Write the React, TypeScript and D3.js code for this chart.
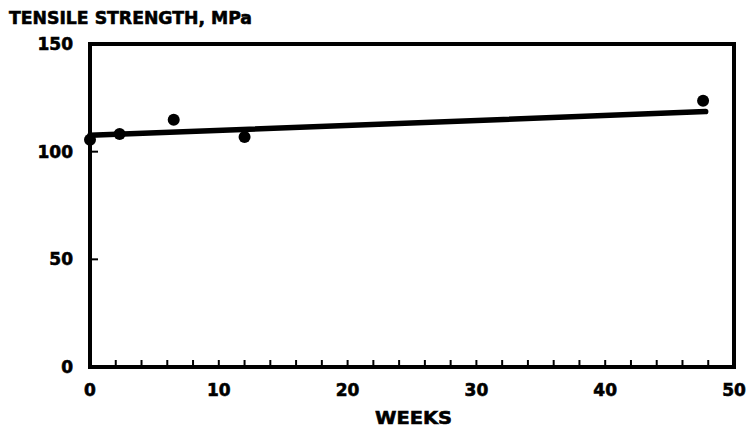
import React, { useEffect, useRef } from "react";
import * as d3 from "d3";

const weeks = [0, 2.3, 6.5, 12, 47.6];
const strength = [105.5, 108.2, 114.8, 106.8, 123.6];
const fitWeeks = [0, 47.8];
const fitStrength = [107.6, 118.6];
const xTickLabels = [0, 10, 20, 30, 40, 50];
const yTickLabels = [0, 50, 100, 150];

const App = () => {
  const ref = useRef<SVGSVGElement>(null);
  const width = 749;
  const height = 431;

  useEffect(() => {
    const svg = d3.select(ref.current);
    svg.selectAll("*").remove();

    const x = d3.scaleLinear().domain([0, 50]).range([90, 734]);
    const y = d3.scaleLinear().domain([0, 150]).range([367, 44]);
    const font = "'DejaVu Sans', sans-serif";

    // frame
    svg
      .append("rect")
      .attr("x", x(0))
      .attr("y", y(150))
      .attr("width", x(50) - x(0))
      .attr("height", y(0) - y(150))
      .attr("fill", "none")
      .attr("stroke", "#000")
      .attr("stroke-width", 4);

    // minor x ticks every 2 weeks
    svg
      .selectAll("line.xt")
      .data(d3.range(2, 50, 2))
      .enter()
      .append("line")
      .attr("x1", (d) => x(d))
      .attr("x2", (d) => x(d))
      .attr("y1", y(0))
      .attr("y2", y(0) - 7)
      .attr("stroke", "#000")
      .attr("stroke-width", 2);

    // y ticks
    svg
      .selectAll("line.yt")
      .data([50, 100])
      .enter()
      .append("line")
      .attr("x1", x(0))
      .attr("x2", x(0) + 8)
      .attr("y1", (d) => y(d))
      .attr("y2", (d) => y(d))
      .attr("stroke", "#000")
      .attr("stroke-width", 2);

    svg
      .selectAll("text.xl")
      .data(xTickLabels)
      .enter()
      .append("text")
      .attr("x", (d) => x(d))
      .attr("y", 396)
      .attr("text-anchor", "middle")
      .text((d) => d);

    svg
      .selectAll("text.yl")
      .data(yTickLabels)
      .enter()
      .append("text")
      .attr("x", 73)
      .attr("y", (d) => y(d) + 6)
      .attr("text-anchor", "end")
      .text((d) => d);

    svg
      .append("text")
      .attr("x", 375)
      .attr("y", 424)
      .attr("textLength", 77)
      .attr("lengthAdjust", "spacingAndGlyphs")
      .style("font-size", "18px")
      .text("WEEKS");

    svg
      .append("text")
      .attr("x", 9)
      .attr("y", 24)
      .attr("textLength", 243)
      .attr("lengthAdjust", "spacingAndGlyphs")
      .style("font-size", "18px")
      .text("TENSILE STRENGTH, MPa");

    // heavier lettering, like the original print
    svg
      .selectAll("text")
      .style("font-family", font)
      .style("font-weight", "bold")
      .style("stroke", "#000")
      .style("stroke-width", 0.6)
      .each(function () {
        const t = d3.select(this);
        if (!t.style("font-size") || t.attr("textLength") == null) t.style("font-size", "17px");
      });

    // fitted line
    const line = d3
      .line<number>()
      .x((d) => x(d))
      .y((d, i) => y(fitStrength[i]));
    svg
      .append("path")
      .attr("d", line(fitWeeks))
      .attr("fill", "none")
      .attr("stroke", "#000")
      .attr("stroke-width", 5.5)
      .attr("stroke-linecap", "round");

    svg
      .selectAll("circle")
      .data(weeks)
      .enter()
      .append("circle")
      .attr("cx", (d) => x(d))
      .attr("cy", (d, i) => y(strength[i]))
      .attr("r", 6)
      .attr("fill", "#000");
  }, []);

  return (
    <svg
      ref={ref}
      width={width}
      height={height}
      style={{ position: "absolute", left: 0, top: 0, background: "#fff" }}
    />
  );
};

export default App;
